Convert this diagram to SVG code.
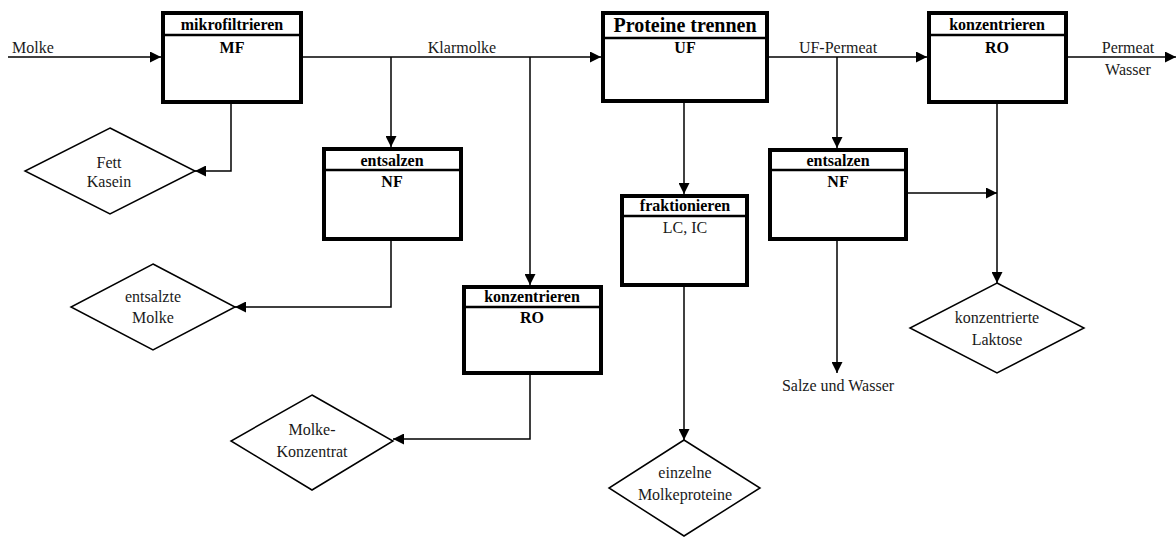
<svg xmlns="http://www.w3.org/2000/svg" width="1176" height="539" viewBox="0 0 1176 539" font-family="'Liberation Serif', 'Times New Roman', 'DejaVu Serif', serif">
<style>
.box{fill:#fff;stroke:#000;stroke-width:4}
.div{stroke:#000;stroke-width:2.5}
.dia{fill:#fff;stroke:#000;stroke-width:1.5}
.c{fill:none;stroke:#000;stroke-width:1.5;marker-end:url(#ah)}
text{font-family:'Liberation Serif','Times New Roman','DejaVu Serif',serif;font-size:16px;fill:#1a1a1a;text-anchor:middle}
.b{font-weight:bold;fill:#000}
.big{font-size:20px}
.l{text-anchor:start}
</style>
<defs>
<marker id="ah" markerUnits="userSpaceOnUse" markerWidth="11" markerHeight="11" refX="11" refY="5.5" orient="auto">
<path d="M0,0 L11,5.5 L0,11 z" fill="#000"/>
</marker>
</defs>
<rect width="1176" height="539" fill="#fff"/>
<g id="connectors">
<path class="c" d="M8,57 H161"/>
<path class="c" d="M303,57 H601"/>
<path class="c" d="M391,57 V147"/>
<path class="c" d="M530,57 V285"/>
<path class="c" d="M231,104 V171 H195"/>
<path class="c" d="M391,241 V307 H235"/>
<path class="c" d="M530,375 V439 H393"/>
<path class="c" d="M684,103 V194"/>
<path class="c" d="M684,287 V440"/>
<path class="c" d="M769,57 H927"/>
<path class="c" d="M837,57 V148"/>
<path class="c" d="M837,241 V373"/>
<path class="c" d="M908,193 H997"/>
<path class="c" d="M997,104 V283"/>
<path class="c" d="M1068,57 H1176"/>
<text x="12" y="53" class="l">Molke</text>
<text x="462" y="53">Klarmolke</text>
<text x="838" y="53">UF-Permeat</text>
<text x="1128" y="53">Permeat</text>
<text x="1128" y="75">Wasser</text>
<text x="838" y="391">Salze und Wasser</text>
</g>
<g id="mf">
<rect class="box" x="163" y="13" width="138" height="89"/>
<line class="div" x1="161" y1="35" x2="303" y2="35"/>
<text class="b" x="232" y="30">mikrofiltrieren</text>
<text class="b" x="232" y="53">MF</text>
</g>
<g id="uf">
<rect class="box" x="603" y="13" width="164" height="88"/>
<line class="div" x1="601" y1="38" x2="769" y2="38"/>
<text class="b big" x="685" y="32">Proteine trennen</text>
<text class="b" x="685" y="53">UF</text>
</g>
<g id="ro2">
<rect class="box" x="929" y="13" width="137" height="89"/>
<line class="div" x1="927" y1="35" x2="1068" y2="35"/>
<text class="b" x="997" y="30">konzentrieren</text>
<text class="b" x="997" y="53">RO</text>
</g>
<g id="nf1">
<rect class="box" x="324" y="149" width="137" height="90"/>
<line class="div" x1="322" y1="170" x2="463" y2="170"/>
<text class="b" x="392" y="166">entsalzen</text>
<text class="b" x="392" y="187">NF</text>
</g>
<g id="nf2">
<rect class="box" x="770" y="150" width="136" height="89"/>
<line class="div" x1="768" y1="170" x2="908" y2="170"/>
<text class="b" x="838" y="166">entsalzen</text>
<text class="b" x="838" y="187">NF</text>
</g>
<g id="ro1">
<rect class="box" x="464" y="287" width="137" height="86"/>
<line class="div" x1="462" y1="307" x2="603" y2="307"/>
<text class="b" x="532" y="302">konzentrieren</text>
<text class="b" x="532" y="323">RO</text>
</g>
<g id="frakt">
<rect class="box" x="622" y="196" width="125" height="89"/>
<line class="div" x1="620" y1="216" x2="749" y2="216"/>
<text class="b" x="685" y="211">fraktionieren</text>
<text x="685" y="233">LC, IC</text>
</g>
<g id="fett">
<polygon class="dia" points="110,128 195,171 110,214 25,171"/>
<text x="109" y="168">Fett</text>
<text x="109" y="187">Kasein</text>
</g>
<g id="entsalzte">
<polygon class="dia" points="153,264 235,307 153,350 71,307"/>
<text x="153" y="302">entsalzte</text>
<text x="153" y="323">Molke</text>
</g>
<g id="konzentrat">
<polygon class="dia" points="312,395 393,441 312,490 231,441"/>
<text x="312" y="435">Molke-</text>
<text x="312" y="457">Konzentrat</text>
</g>
<g id="molkeproteine">
<polygon class="dia" points="684,440 760,488 684,536 609,488"/>
<text x="685" y="478">einzelne</text>
<text x="685" y="500">Molkeproteine</text>
</g>
<g id="laktose">
<polygon class="dia" points="997,283 1084,328 997,373 910,328"/>
<text x="997" y="323">konzentrierte</text>
<text x="997" y="345">Laktose</text>
</g>
</svg>
